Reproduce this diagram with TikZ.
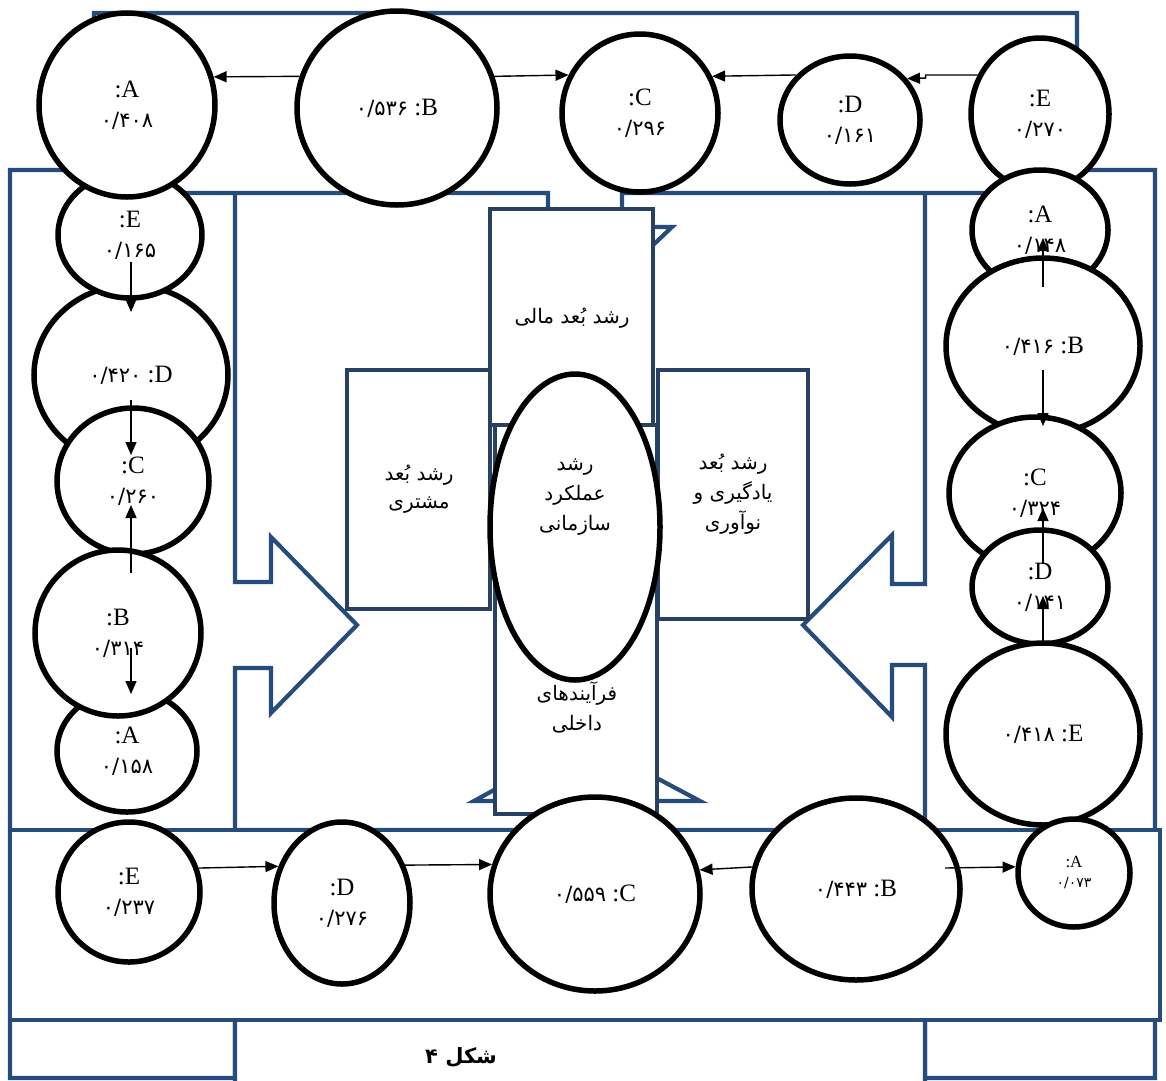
\documentclass[tikz,border=0pt]{standalone}
\usepackage{fontspec}
\setmainfont{Liberation Serif}
\newfontfamily\fa[Script=Arabic]{DejaVu Sans}
\TeXXeTstate=1
\usetikzlibrary{shapes.geometric,arrows.meta}
\definecolor{calloutblue}{RGB}{38,76,124}
\definecolor{boxblue}{RGB}{40,64,98}
\newcommand\twolab[2]{:#1\\{\fa\fontsize{21}{30}\selectfont #2}}
\newcommand\onelab[2]{{\fa\fontsize{21}{30}\selectfont #2} :#1}
\newcommand\rl[1]{\beginR #1\endR}
\begin{document}
\begin{tikzpicture}[x=1pt,y=-1pt,
  circ/.style={ellipse, draw=black, line width=5.5pt, fill=white, inner sep=0pt, align=center, font=\fontsize{25}{30}\selectfont},
  arr/.style={draw=black, line width=1.4pt, -{Triangle[length=13pt,width=11pt]}},
  callout/.style={draw=calloutblue, line width=4.2pt, fill=white, line join=miter},
  cbox/.style={rectangle, draw=boxblue, line width=4.2pt, fill=white, inner sep=0pt},
  fatext/.style={font=\fa\fontsize{20}{30}\selectfont, align=center, inner sep=0pt},
]
\clip (0,0) rectangle (1166,1080);
\fill[white] (0,0) rectangle (1166,1080);

% ---- arrow callouts (panels) ----
\draw[callout] (10,170) -- (235,170) -- (235,582) -- (271,582) -- (271,537) -- (357,625)
  -- (271,713) -- (271,668) -- (235,668) -- (235,1078) -- (10,1078) -- cycle;
\draw[callout] (1155,170) -- (925,170) -- (925,584) -- (892,584) -- (892,535) -- (803,625)
  -- (892,717) -- (892,665) -- (925,665) -- (925,1078) -- (1155,1078) -- cycle;
\draw[callout] (235,1095) -- (235,830) -- (548,830) -- (548,801) -- (474,801) -- (585,740)
  -- (700,801) -- (622,801) -- (622,830) -- (925,830) -- (925,1095) -- cycle;
\draw[callout] (94,13) -- (1077,13) -- (1077,193) -- (622,193) -- (622,227) -- (672,227)
  -- (585,310) -- (498,227) -- (548,227) -- (548,193) -- (94,193) -- cycle;
\draw[callout] (10,830) rectangle (1160,1020);

% ---- centre boxes ----
\node[cbox, minimum width=163pt, minimum height=216pt] (fin) at (571.5,317) {};
\node[cbox, minimum width=162pt, minimum height=389pt] (proc) at (576,619.5) {};
\node[cbox, minimum width=143pt, minimum height=239pt] (cust) at (418.5,489.5) {};
\node[cbox, minimum width=150pt, minimum height=249pt] (learn) at (733,494.5) {};
\node[ellipse, draw=black, line width=5.5pt, fill=white, minimum width=170pt, minimum height=306pt] (core) at (575,527) {};

\node[fatext] (tfin) at (572,318) {\rl{رشد بُعد مالی}};
\node[fatext, font=\fa\fontsize{20}{28}\selectfont] (tcust) at (419,489) {\rl{رشد بُعد}\\\rl{مشتری}};
\node[fatext] (tlearn) at (733,494) {\rl{رشد بُعد}\\\rl{یادگیری و}\\\rl{نوآوری}};
\node[fatext] (tproc) at (577,707) {\rl{فرآیندهای}\\\rl{داخلی}};
\node[fatext] (tcore) at (575,497) {\rl{رشد}\\\rl{عملکرد}\\\rl{سازمانی}};

% ---- circles: left column ----
\node[circ, minimum width=194pt, minimum height=180pt] (lD) at (131,375) {\onelab{D}{۰/۴۲۰}};
\node[circ, minimum width=144pt, minimum height=126pt] (lE) at (130,235) {\twolab{E}{۰/۱۶۵}};
\node[circ, minimum width=152pt, minimum height=146pt] (lC) at (133,481) {\twolab{C}{۰/۲۶۰}};
\node[circ, minimum width=140pt, minimum height=122pt] (lA) at (127,751) {\twolab{A}{۰/۱۵۸}};
\node[circ, minimum width=166pt, minimum height=166pt] (lB) at (118,633) {\twolab{B}{۰/۳۱۴}};
% ---- top row ----
\node[circ, minimum width=176pt, minimum height=184pt] (tA) at (127,105) {\twolab{A}{۰/۴۰۸}};
\node[circ, minimum width=200pt, minimum height=194pt] (tB) at (397,108) {\onelab{B}{۰/۵۳۶}};
\node[circ, minimum width=156pt, minimum height=158pt] (tC) at (640,113) {\twolab{C}{۰/۲۹۶}};
\node[circ, minimum width=140pt, minimum height=128pt] (tD) at (850,120) {\twolab{D}{۰/۱۶۱}};
\node[circ, minimum width=138pt, minimum height=152pt] (tE) at (1040,114) {\twolab{E}{۰/۲۷۰}};
% ---- right column ----
\node[circ, minimum width=136pt, minimum height=120pt] (rA) at (1040,230) {\twolab{A}{۰/۱۴۸}};
\node[circ, minimum width=194pt, minimum height=176pt] (rB) at (1043,346) {\onelab{B}{۰/۴۱۶}};
\node[circ, minimum width=172pt, minimum height=152pt] (rC) at (1035,493) {\twolab{C}{۰/۳۲۴}};
\node[circ, minimum width=136pt, minimum height=114pt] (rD) at (1040,587) {\twolab{D}{۰/۱۴۱}};
\node[circ, minimum width=194pt, minimum height=182pt] (rE) at (1043,734) {\onelab{E}{۰/۴۱۸}};
% ---- bottom row ----
\node[circ, minimum width=142pt, minimum height=140pt] (bE) at (129,892) {\twolab{E}{۰/۲۳۷}};
\node[circ, minimum width=136pt, minimum height=162pt] (bD) at (342,903) {\twolab{D}{۰/۲۷۶}};
\node[circ, minimum width=210pt, minimum height=194pt] (bC) at (595,894) {\onelab{C}{۰/۵۵۹}};
\node[circ, minimum width=208pt, minimum height=182pt] (bB) at (856,889) {\onelab{B}{۰/۴۴۳}};
\node[circ, minimum width=112pt, minimum height=108pt, font=\fontsize{17}{20}\selectfont] (bA) at (1074,873)
  {:A\\{\fa\fontsize{14}{20}\selectfont ۰/۰۷۳}};

% ---- connectors ----
\draw[arr] (tB.162) -- (tA.18.5);
\draw[arr] (tB.18) -- (tC.152.6);
\draw[arr] (tD.140.4) -- (tC.27.4);
\draw[arr] (tE.148.5) -- ++(-52,0) -- ++(0,3) -- (tD.36);

\draw[arr] ([shift={(1pt,-27pt)}]lE.center) -- ([yshift=63pt]lD.center);
\draw[arr] ([yshift=-25pt]lD.center) -- ([shift={(-2pt,26pt)}]lC.center);
\draw[arr] ([shift={(13pt,60pt)}]lB.center) -- ([shift={(-2pt,-24pt)}]lC.center);
\draw[arr] ([shift={(13pt,-15pt)}]lB.center) -- ([shift={(4pt,57pt)}]lA.center);

\draw[arr] ([yshift=59pt]rB.center) -- ([shift={(3pt,-8pt)}]rA.center);
\draw[arr] ([yshift=-24pt]rB.center) -- ([shift={(8pt,67pt)}]rC.center);
\draw[arr] ([shift={(3pt,23pt)}]rD.center) -- ([shift={(8pt,-15pt)}]rC.center);
\draw[arr] ([yshift=93pt]rE.center) -- ([shift={(3pt,-9pt)}]rD.center);

\draw[arr] (bE.19.8) -- (bD.150.3);
\draw[arr] (bD.31.5) -- (bC.164.4);
\draw[arr] (bB.168.9) -- (bC.13.3);
\draw[arr] ([shift={(89pt,21pt)}]bB.center) -- (bA.174.9);

% ---- caption ----
\node[font=\fa\bfseries\fontsize{21}{24}\selectfont, inner sep=0pt] (cap) at (461,1057) {\rl{شکل ۴}};
\end{tikzpicture}
\end{document}
